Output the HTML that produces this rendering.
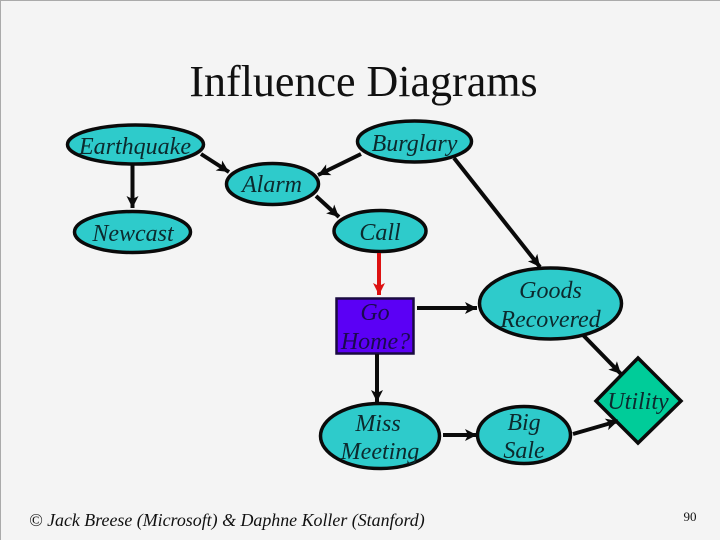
<!DOCTYPE html>
<html><head><meta charset="utf-8"><style>
html,body{margin:0;padding:0;background:#f4f4f4}
svg{display:block}
text{font-family:"Liberation Serif",serif;fill:#111}
.i{font-style:italic;font-size:24px;text-anchor:middle;fill:#0c2a2e}
.g{fill:#1a0a50}
.n{fill:#2ecbcb;stroke:#0a0a0a;stroke-width:3.5}
.a{stroke:#0a0a0a;stroke-width:4;fill:none}
</style></head><body>
<svg width="720" height="540" viewBox="0 0 720 540" xmlns="http://www.w3.org/2000/svg">
<defs>
<marker id="h" markerUnits="userSpaceOnUse" markerWidth="16" markerHeight="14" refX="13" refY="7" orient="auto"><path d="M1 1 L13 7 L1 13 L4 7Z" fill="#0a0a0a"/></marker>
<marker id="r" markerUnits="userSpaceOnUse" markerWidth="16" markerHeight="14" refX="13" refY="7" orient="auto"><path d="M1 1 L13 7 L1 13 L4 7Z" fill="#dd1111"/></marker>
</defs>
<rect width="720" height="540" fill="#f4f4f4"/>
<path d="M0 0H720M0 0V540" stroke="#aaa" stroke-width="2"/>
<text x="363.5" y="96" text-anchor="middle" font-size="44">Influence Diagrams</text>
<ellipse class="n" cx="135.5" cy="144.5" rx="68" ry="19.5"/>
<ellipse class="n" cx="132.5" cy="232" rx="58" ry="20.5"/>
<ellipse class="n" cx="272.5" cy="184" rx="46" ry="20.5"/>
<ellipse class="n" cx="414.5" cy="141.5" rx="57" ry="20.5"/>
<ellipse class="n" cx="380" cy="231" rx="46" ry="20.5"/>
<ellipse class="n" cx="550.5" cy="303.5" rx="71" ry="35.5"/>
<ellipse class="n" cx="380" cy="436" rx="59.5" ry="32.5"/>
<ellipse class="n" cx="524" cy="435" rx="46.5" ry="28.5"/>
<rect x="336.5" y="298.5" width="77" height="55" fill="#5b00f5" stroke="#1a0a40" stroke-width="2.5"/>
<path d="M638 358 L681 401 L638 443 L596 401Z" fill="#00cc99" stroke="#0a0a0a" stroke-width="3.5"/>
<path class="a" marker-end="url(#h)" d="M132.5 165V208"/>
<path class="a" marker-end="url(#h)" d="M201 154L229 172"/>
<path class="a" marker-end="url(#h)" d="M361 154L318 175"/>
<path class="a" marker-end="url(#h)" d="M316 196L339 217"/>
<path class="a" marker-end="url(#h)" d="M454 158L540 267"/>
<path d="M379 253V295" stroke="#dd1111" stroke-width="4" fill="none" marker-end="url(#r)"/>
<path class="a" marker-end="url(#h)" d="M417 308H477"/>
<path class="a" marker-end="url(#h)" d="M377 354V402"/>
<path class="a" marker-end="url(#h)" d="M583 335L621 374"/>
<path class="a" marker-end="url(#h)" d="M443 435H477"/>
<path class="a" marker-end="url(#h)" d="M573 434L618 421"/>
<text class="i" x="135" y="154">Earthquake</text>
<text class="i" x="133" y="241">Newcast</text>
<text class="i" x="272" y="192">Alarm</text>
<text class="i" x="414.5" y="151">Burglary</text>
<text class="i" x="380" y="240">Call</text>
<text class="i" x="550.5" y="298">Goods</text>
<text class="i" x="550.5" y="327">Recovered</text>
<text class="i g" x="375" y="320">Go</text>
<text class="i g" x="375.5" y="349">Home?</text>
<text class="i" x="378" y="431">Miss</text>
<text class="i" x="380" y="459">Meeting</text>
<text class="i" x="524" y="430">Big</text>
<text class="i" x="524" y="458">Sale</text>
<text class="i" x="638" y="409">Utility</text>
<text x="29" y="526" font-size="17.9" font-style="italic">© Jack Breese (Microsoft) &amp; Daphne Koller (Stanford)</text>
<text x="690" y="521" font-size="13" text-anchor="middle">90</text>
</svg>
</body></html>
